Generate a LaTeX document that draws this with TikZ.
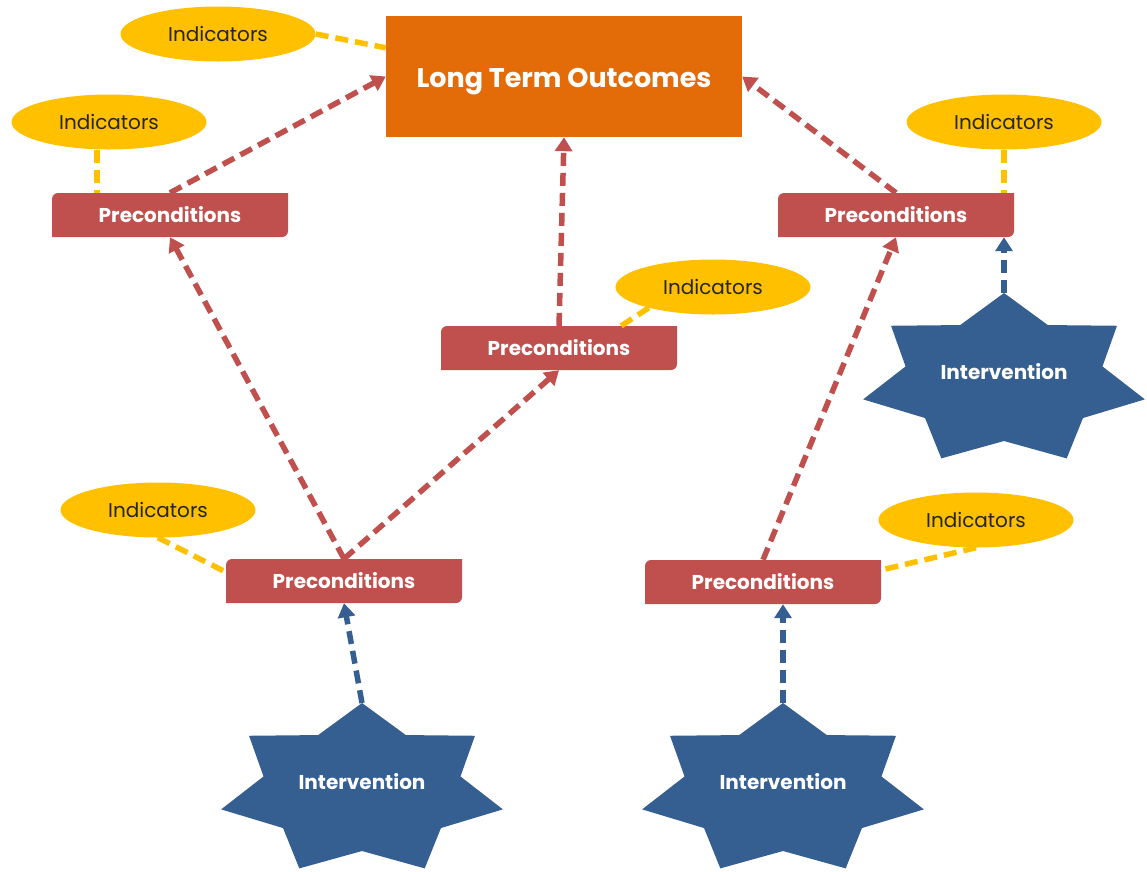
\documentclass[tikz,border=0pt]{standalone}
\usepackage{fontspec}
\setmainfont{Poppins}
\usetikzlibrary{shapes.geometric,arrows.meta}
\definecolor{ltoorange}{HTML}{E36C09}
\definecolor{prered}{HTML}{C0504D}
\definecolor{ivblue}{HTML}{365F91}
\definecolor{indyellow}{HTML}{FFC000}
\definecolor{indtext}{HTML}{262626}
\begin{document}
\begin{tikzpicture}[x=1pt,y=-1pt,
  ltobox/.style={rectangle, fill=ltoorange, minimum width=356pt, minimum height=121pt, inner sep=0pt, text=white, text height=22pt, text depth=0pt, font=\fontsize{27pt}{31pt}\selectfont\bfseries},
  prebox/.style={rectangle, minimum width=236pt, minimum height=44pt, inner sep=0pt, text=white, font=\fontsize{20pt}{24pt}\selectfont\bfseries,
    path picture={\fill[prered] (path picture bounding box.west) [rounded corners=6pt] -- (path picture bounding box.north west) -- (path picture bounding box.north) [sharp corners] -- (path picture bounding box.north east) -- (path picture bounding box.east) [rounded corners=6pt] -- (path picture bounding box.south east) -- (path picture bounding box.south) [sharp corners] -- (path picture bounding box.south west) -- cycle;}},
  indell/.style={ellipse, fill=indyellow, minimum width=195pt, minimum height=55pt, inner sep=0pt, text=indtext, font=\fontsize{20pt}{24pt}\selectfont},
  ivtext/.style={inner sep=0pt, text=white, font=\fontsize{20pt}{24pt}\selectfont\bfseries},
  redarrow/.style={draw=prered, line width=5.5pt, dash pattern=on 13pt off 7pt, -{Triangle[length=14pt,width=17pt]}},
  bluearrow/.style={draw=ivblue, line width=5.5pt, dash pattern=on 13pt off 7pt, -{Triangle[length=14pt,width=17pt]}},
  indline/.style={draw=indyellow, line width=5.5pt, dash pattern=on 13pt off 7pt},
  ivstar/.pic={\fill[ivblue] (-90:144.5 and 87) \foreach \k in {0,...,6}{ -- ({-90+\k*360/7+180/7}:101 and 61) -- ({-90+(\k+1)*360/7}:144.5 and 87)} -- cycle;}
]
\useasboundingbox (0,0) rectangle (1147,871);

% stars
\pic at (362,790) {ivstar};
\pic at (783,790) {ivstar};
\pic at (1004,380) {ivstar};
\node[ivtext] (s1) at (362,782) {Intervention};
\node[ivtext] (s2) at (783,782) {Intervention};
\node[ivtext] (s3) at (1004,372) {Intervention};
\coordinate (s1top) at (362,703);
\coordinate (s2top) at (783,703);
\coordinate (s3top) at (1004,293);

% main nodes
\node[ltobox] (lto) at (564,76.5) {Long Term Outcomes};
\node[prebox] (p1) at (170,215) {Preconditions};
\node[prebox] (p2) at (896,215) {Preconditions};
\node[prebox] (p3) at (559,348) {Preconditions};
\node[prebox] (p4) at (344,581) {Preconditions};
\node[prebox] (p5) at (763,582) {Preconditions};

% indicators
\node[indell] (e1) at (218,34) {Indicators};
\node[indell] (e2) at (109,122) {Indicators};
\node[indell] (e3) at (1004,122) {Indicators};
\node[indell] (e4) at (713,287) {Indicators};
\node[indell] (e5) at (158,510) {Indicators};
\node[indell] (e6) at (976,520) {Indicators};

% indicator links
\draw[indline] (e1.east) -- ([yshift=-32pt]lto.north west);
\coordinate (k2) at ([xshift=45pt]p1.north west);
\draw[indline] (e2.south -| k2) -- (k2);
\draw[indline] (e3.south) -- (e3.south |- p2.north);
\draw[indline] (e4.198) -- ([xshift=-56pt]p3.north east);
\draw[indline] (e5.south) -- ([yshift=9pt]p4.west);
\draw[indline] (e6.south) -- ([yshift=12pt]p5.east);

% precondition arrows
\draw[redarrow] (p1.north) -- (lto.west);
\draw[redarrow] (p3.north) -- (lto.south);
\draw[redarrow] (p2.north) -- (lto.east);
\draw[redarrow] (p4.north) -- (p1.south);
\draw[redarrow] (p4.north) -- (p3.south);
\draw[redarrow] (p5.north) -- (p2.south);

% intervention arrows
\draw[bluearrow] (s1top) -- (p4.south);
\draw[bluearrow] (s2top) -- (s2top |- p5.south);
\draw[bluearrow] (s3top) -- (s3top |- p2.south);
\end{tikzpicture}
\end{document}
